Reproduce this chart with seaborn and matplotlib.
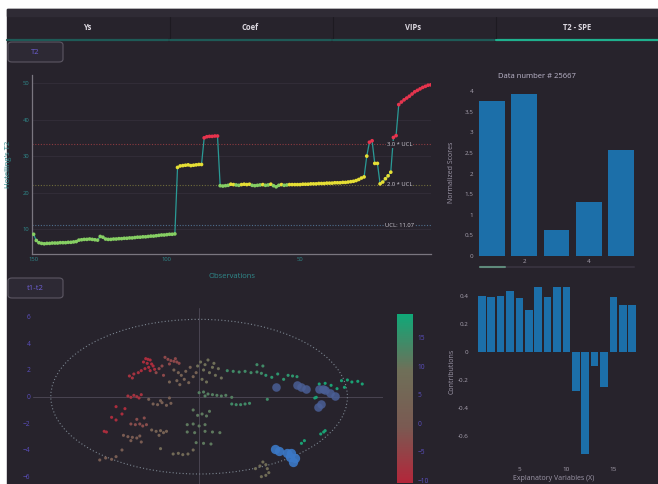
import numpy as np
import pandas as pd
import matplotlib
matplotlib.use('Agg')
import matplotlib.pyplot as plt
import seaborn as sns
from matplotlib.colors import LinearSegmentedColormap, Normalize
from matplotlib.cm import ScalarMappable
from matplotlib.patches import Rectangle, FancyBboxPatch, Ellipse
from matplotlib.lines import Line2D

################################################################################################
# data

tab_names = ['Ys', 'Coef', 'VIPs', 'T2 - SPE']

# Hotelling's T2 for observations 150 ... 1
t2_values = [
    8.6, 6.9, 6.3, 6.1, 6.0, 6.1, 6.1, 6.2, 6.2, 6.2,
    6.3, 6.3, 6.3, 6.4, 6.4, 6.5, 6.6, 7.0, 7.1, 7.2,
    7.2, 7.3, 7.2, 7.1, 7.0, 8.0, 7.8, 7.3, 7.2, 7.2,
    7.3, 7.3, 7.4, 7.4, 7.5, 7.5, 7.6, 7.6, 7.7, 7.8,
    7.8, 7.9, 7.9, 8.0, 8.1, 8.1, 8.2, 8.3, 8.4, 8.4,
    8.5, 8.6, 8.6, 8.7,
    26.9, 27.3, 27.4, 27.5, 27.6, 27.4, 27.5, 27.6, 27.7, 27.7,
    35.0, 35.3, 35.4, 35.4, 35.5, 35.5,
    21.9, 21.8, 21.9, 22.0, 22.3, 22.2, 22.1, 22.0, 22.2, 22.3,
    22.2, 22.3, 22.0, 21.9, 22.0, 22.1, 22.2, 22.0, 22.1, 22.3,
    21.9, 21.6, 22.0, 22.2, 22.0, 22.1, 22.2, 22.2, 22.2, 22.2,
    22.2, 22.3, 22.3, 22.3, 22.4, 22.4, 22.4, 22.5, 22.5, 22.5,
    22.6, 22.6, 22.6, 22.7, 22.7, 22.7, 22.8, 22.8, 22.9, 23.0,
    23.1, 23.3, 23.6, 24.0,
    24.3, 30.0, 33.8, 34.2, 28.0, 28.0, 22.4, 22.9, 23.8, 24.6,
    25.6, 35.1, 35.6, 44.1, 44.8, 45.4, 45.9, 46.4, 47.0, 47.6,
    48.0, 48.4, 48.8, 49.1, 49.4, 49.5,
]
ucl = 11.07

score_vars = [1, 2, 3, 4, 5]
score_values = [3.76, 3.92, 0.63, 1.31, 2.57]

contrib_vars = list(range(1, 18))
contrib_values = [0.40, 0.39, 0.40, 0.43, 0.38, 0.30, 0.46, 0.39, 0.46, 0.46,
                  -0.28, -0.73, -0.10, -0.25, 0.39, 0.33, 0.33]

# t1 / t2 scores, grouped by the colour value they carry
score_groups = [
    (-9, [(-3.6, 2.85), (-3.45, 2.8), (-3.3, 2.75), (-3.75, 2.6), (-3.5, 2.5), (-3.2, 2.45),
          (-3.1, 2.3), (-3.4, 2.2), (-3.65, 2.1), (-3.0, 2.05), (-3.9, 1.95), (-3.3, 1.95)]),
    (-8, [(-4.7, 1.55), (-4.4, 1.7), (-4.1, 1.8), (-4.5, 1.4), (-4.8, 0.05), (-4.6, -0.05),
          (-4.4, 0.1), (-4.2, 0.0), (-3.9, 0.15), (-4.05, -0.1)]),
    (-9, [(-5.6, -0.75), (-5.9, -1.55), (-5.6, -1.75), (-6.4, -2.6), (-6.25, -2.65),
          (-5.2, -1.3), (-5.0, -0.9)]),
    (-4, [(-2.3, 2.95), (-2.1, 2.8), (-1.9, 2.7), (-1.7, 2.65), (-1.5, 2.6), (-1.35, 2.5),
          (-2.0, 2.45), (-1.6, 2.85), (-2.5, 2.3), (-2.7, 2.1), (-2.9, 1.8), (-2.4, 1.6)]),
    (3, [(-1.7, 2.0), (-1.4, 1.8), (-1.2, 1.6), (-1.0, 1.3), (-1.5, 1.2), (-0.9, 1.9),
         (-0.6, 2.2), (-0.4, 1.5), (-0.7, 1.05), (-1.3, 0.9), (-0.2, 1.8), (-2.0, 1.1)]),
    (9, [(0.1, 2.6), (0.4, 2.4), (0.6, 2.75), (0.9, 2.2), (0.3, 2.0), (0.7, 1.8), (1.1, 1.6),
         (0.2, 1.3), (0.5, 1.1), (1.3, 2.1), (1.0, 2.5), (1.5, 1.4), (-0.1, 2.3)]),
    (12, [(0.0, 0.3), (0.3, 0.35), (0.6, 0.2), (0.9, 0.15), (1.2, 0.1), (1.5, 0.05),
          (1.8, 0.1), (2.2, -0.05), (0.4, 0.05)]),
    (14, [(1.9, 1.95), (2.3, 1.9), (2.7, 1.85), (3.1, 1.9), (3.5, 1.8), (3.9, 1.85),
          (4.2, 1.75), (3.9, 2.4), (4.3, 2.3)]),
    (14, [(2.2, -0.55), (2.5, -0.6), (2.8, -0.6), (3.1, -0.55), (3.4, -0.5), (4.6, -0.2)]),
    (2, [(-3.1, -0.55), (-2.8, -0.6), (-2.5, -0.45), (-2.2, -0.65), (-1.9, -0.5),
         (-2.6, -0.3), (-3.4, -0.2), (-2.0, -0.1)]),
    (-3, [(-4.6, -2.05), (-4.3, -2.1), (-4.0, -2.05), (-3.8, -2.2), (-3.55, -2.1),
          (-4.2, -1.7), (-3.7, -1.6)]),
    (0, [(-5.1, -2.9), (-4.8, -3.0), (-4.5, -3.05), (-4.2, -3.1), (-4.0, -2.95),
         (-4.6, -3.3), (-3.9, -3.4)]),
    (3, [(-2.9, -2.6), (-2.6, -2.55), (-2.4, -2.7), (-2.2, -2.6), (-3.2, -2.5), (-2.7, -2.9)]),
    (11, [(-0.4, -1.0), (-0.1, -1.4), (0.2, -1.3), (0.5, -1.45), (0.7, -1.1), (-0.8, -2.1),
          (-0.4, -2.05), (0.0, -2.2), (0.4, -2.1), (-0.8, -2.65), (-0.3, -2.7), (0.4, -2.6),
          (0.9, -2.65), (1.4, -2.7), (-0.2, -3.45), (0.3, -3.5), (0.8, -3.55)]),
    (7, [(-1.75, -4.3), (-1.4, -4.25), (-1.1, -4.35), (-0.75, -4.3), (-0.4, -4.0), (-2.6, -3.9)]),
    (1, [(-6.7, -4.75), (-6.3, -4.6), (-5.9, -4.7), (-5.6, -4.5), (-5.2, -4.0)]),
    (16, [(4.5, 1.6), (4.9, 1.45), (5.3, 1.7), (5.7, 1.3), (6.0, 1.6), (6.3, 1.55), (6.6, 1.5)]),
    (18, [(8.1, 0.95), (8.5, 1.0), (8.9, 0.85), (9.3, 0.6), (9.6, 1.2), (10.0, 1.25),
          (10.3, 1.1), (10.7, 1.15), (11.0, 0.95), (9.8, 0.7), (7.8, -0.1), (7.9, -0.05)]),
    (18, [(8.2, -2.8), (8.4, -2.65), (8.5, -2.55), (6.9, -3.5), (7.1, -3.3)]),
    (8, [(4.3, -4.9), (4.5, -5.1), (4.6, -5.4), (4.7, -5.7), (4.5, -5.9), (4.2, -6.0),
         (3.8, -5.4), (4.1, -5.2)]),
]

# highlighted observations (big blue dots)
sel_upper = [(5.2, 0.75), (6.6, 0.9), (6.9, 0.75), (7.2, 0.55), (8.1, 0.6), (8.35, 0.55),
             (8.5, 0.5), (8.8, 0.25), (9.15, 0.05), (8.0, -0.75), (8.25, -0.55)]
sel_lower = [(5.1, -3.9), (5.4, -4.1), (5.9, -4.25), (6.2, -4.2), (6.45, -4.6),
             (6.35, -4.9), (6.1, -4.5)]

################################################################################################
# style

BG = '#27232c'
TEAL = '#2a9a96'
BLUE = '#1c6fa9'
W, H = 658, 484

sns.set_style('dark', {'axes.facecolor': BG, 'figure.facecolor': 'white'})
plt.rcParams['font.family'] = ['Open Sans', 'DejaVu Sans']


def box(x0, y0, x1, y1):
    # pixel box (top-left origin) -> figure fraction rect
    return [x0 / W, 1 - y1 / H, (x1 - x0) / W, (y1 - y0) / H]


def clean(ax, col='#a8a2b0', size=4.5):
    for s in ax.spines.values():
        s.set_visible(False)
    ax.tick_params(colors=col, labelsize=size, length=0, pad=2)
    ax.grid(False)


fig = plt.figure(figsize=(W / 100, H / 100), dpi=100)
fig.add_artist(Rectangle((7 / W, 0), 1 - 7 / W, 1 - 9 / H, transform=fig.transFigure,
                         color=BG, zorder=-10))
fig.add_artist(Rectangle((7 / W, 1 - 16 / H), 1 - 7 / W, 7 / H, transform=fig.transFigure,
                         color='#2f2b35', zorder=-9))

# tabs
tab_edges = [(7, 168), (170, 331), (333, 494), (496, 658)]
for i, (name, (a, b)) in enumerate(zip(tab_names, tab_edges)):
    active = i == 3
    fig.add_artist(Line2D([a / W, b / W], [1 - 40 / H] * 2, transform=fig.transFigure,
                          color='#1fb08e' if active else '#1e5a57', lw=1.6))
    fig.text((a + b) / 2 / W, 1 - 28 / H, name, ha='center', va='center', fontsize=5.5,
             fontweight='bold', color='#dcd8e0')
    if i > 0:
        fig.add_artist(Line2D([a / W] * 2, [1 - 17 / H, 1 - 38 / H], transform=fig.transFigure,
                              color='#1d1a21', lw=0.8))

# buttons
for label, y0 in [('T2', 42), ('t1-t2', 278)]:
    fig.add_artist(FancyBboxPatch((8 / W, 1 - (y0 + 20) / H), 55 / W, 20 / H,
                                  boxstyle='round,pad=0,rounding_size=0.006',
                                  transform=fig.transFigure, fc='#2d2934', ec='#5c5763', lw=0.8))
    fig.text(35 / W, 1 - (y0 + 10) / H, label, ha='center', va='center', fontsize=5.5,
             color='#6e60d6')

################################################################################################
# T2 control chart

ax1 = fig.add_axes(box(32, 75, 431, 254))
df_t2 = pd.DataFrame({'obs': np.arange(len(t2_values), 0, -1), 't2': t2_values})
df_t2['zone'] = np.where(df_t2.t2 < 2 * ucl, 'ok', np.where(df_t2.t2 < 3 * ucl, 'warn', 'alarm'))

sns.lineplot(data=df_t2, x='obs', y='t2', color=TEAL, lw=0.9, ax=ax1, zorder=2)
sns.scatterplot(data=df_t2, x='obs', y='t2', hue='zone',
                palette={'ok': '#86cf63', 'warn': '#e6df35', 'alarm': '#e8334d'},
                s=7, linewidth=0, legend=False, ax=ax1, zorder=3)

for mult, col, lab in [(1, '#4f6f8e', f'UCL: {ucl}'), (2, '#6f6c3c', '2.0 * UCL'),
                       (3, '#8c3a40', '3.0 * UCL')]:
    ax1.axhline(mult * ucl, color=col, ls=(0, (1, 1.5)), lw=0.8, zorder=1)
    ax1.text(12.8, mult * ucl, lab, ha='center', va='center', fontsize=4.2, color='#cfcbd4',
             bbox=dict(fc=BG, ec='none', pad=0.6), zorder=4)

ax1.set_xlim(150.6, 0.9)
ax1.set_ylim(3.2, 52.2)
ax1.set_xticks([150, 100, 50])
ax1.set_yticks([10, 20, 30, 40, 50])
clean(ax1, col='#2f8a8c', size=4.2)
ax1.grid(True, axis='y', color='#332e3a', lw=0.6)
for side in ['left', 'bottom']:
    ax1.spines[side].set_visible(True)
    ax1.spines[side].set_color('#7a7680')
    ax1.spines[side].set_linewidth(0.9)
ax1.set_xlabel('Observations', fontsize=5.5, color='#2f8a8c')
ax1.set_ylabel("Hotelling's T2", fontsize=5.5, color='#2f8a8c')
ax1.xaxis.set_label_coords(0.5, -0.105)
ax1.yaxis.set_label_coords(-0.05, 0.5)

################################################################################################
# normalized scores

ax2 = fig.add_axes(box(479, 89, 634, 256))
sns.barplot(x=score_vars, y=score_values, native_scale=True, color=BLUE, saturation=1,
            width=0.8, linewidth=0, ax=ax2)
ax2.set_xlim(0.6, 5.4)
ax2.set_ylim(0, 4.05)
ax2.set_xticks([2, 4])
ax2.set_yticks(np.arange(0, 4.5, 0.5))
ax2.set_yticklabels(['0', '0.5', '1', '1.5', '2', '2.5', '3', '3.5', '4'])
clean(ax2)
ax2.tick_params(axis='y', pad=4)
ax2.set_ylabel('Normalized Scores', fontsize=5, color='#9d97a8')
ax2.yaxis.set_label_coords(-0.155, 0.5)
fig.text(537 / W, 1 - 77 / H, 'Data number # 25667', ha='center', va='center',
         fontsize=5.5, color='#bdb7cc')
fig.add_artist(Line2D([480 / W, 634 / W], [1 - 267 / H] * 2, transform=fig.transFigure,
                      color='#36313d', lw=1.5))
fig.add_artist(Line2D([480 / W, 505 / W], [1 - 267 / H] * 2, transform=fig.transFigure,
                      color='#5f8a7c', lw=1.5))

################################################################################################
# contributions

ax3 = fig.add_axes(box(478, 283, 636, 460))
sns.barplot(x=contrib_vars, y=contrib_values, native_scale=True, color=BLUE, saturation=1,
            width=0.8, linewidth=0, ax=ax3)
ax3.set_xlim(0.6, 17.4)
ax3.set_ylim(-0.77, 0.49)
ax3.set_xticks([5, 10, 15])
ax3.set_yticks([-0.6, -0.4, -0.2, 0, 0.2, 0.4])
ax3.set_yticklabels(['-0.6', '-0.4', '-0.2', '0', '0.2', '0.4'])
clean(ax3)
ax3.tick_params(axis='y', pad=7)
ax3.tick_params(axis='x', pad=5)
ax3.set_ylabel('Contributions', fontsize=5, color='#9d97a8')
ax3.set_xlabel('Explanatory Variables (X)', fontsize=5, color='#9d97a8')
ax3.yaxis.set_label_coords(-0.143, 0.5)
ax3.xaxis.set_label_coords(0.476, -0.085)

################################################################################################
# t1-t2 score plot

rows = []
for cval, pts in score_groups:
    for t1, t2 in pts:
        rows.append({'t1': t1, 't2': t2, 'c': cval})
df_sc = pd.DataFrame(rows)

cmap = LinearSegmentedColormap.from_list('rg', ['#b3263a', '#7a5a52', '#6f6f58', '#10a878'])
norm = Normalize(-10.5, 19.2)

ax4 = fig.add_axes(box(33, 308, 383, 484))
ax4.axhline(0, color='#4a4552', lw=0.7, zorder=0)
ax4.axvline(0, color='#4a4552', lw=0.7, zorder=0)
ax4.add_patch(Ellipse((0, 0), 20, 11.6, fill=False, ls=(0, (1, 2)), ec='#7b8590', lw=0.8))
sns.scatterplot(data=df_sc, x='t1', y='t2', hue='c', palette=cmap, hue_norm=norm,
                s=5, linewidth=0, legend=False, ax=ax4, zorder=3)
up = pd.DataFrame(sel_upper, columns=['t1', 't2'])
lo = pd.DataFrame(sel_lower, columns=['t1', 't2'])
sns.scatterplot(data=up, x='t1', y='t2', color='#4a5f96', s=38, linewidth=0, alpha=0.85,
                legend=False, ax=ax4, zorder=4)
sns.scatterplot(data=lo, x='t1', y='t2', color='#3b78c6', s=45, linewidth=0, alpha=0.9,
                legend=False, ax=ax4, zorder=4)
ax4.set_xlim(-11.2, 12.4)
ax4.set_ylim(-6.55, 6.65)
ax4.set_xticks([])
ax4.set_yticks([-6, -4, -2, 0, 2, 4, 6])
clean(ax4, col='#5b4fc0', size=4.8)
ax4.set_xlabel('')
ax4.set_ylabel('')

cax = fig.add_axes(box(397, 314, 413, 483))
cb = fig.colorbar(ScalarMappable(norm=norm, cmap=cmap), cax=cax)
cb.outline.set_visible(False)
cb.set_ticks([-10, -5, 0, 5, 10, 15])
cax.tick_params(colors='#5b4fc0', labelsize=4.8, length=0, pad=3)

fig.savefig('out.png', dpi=100)
